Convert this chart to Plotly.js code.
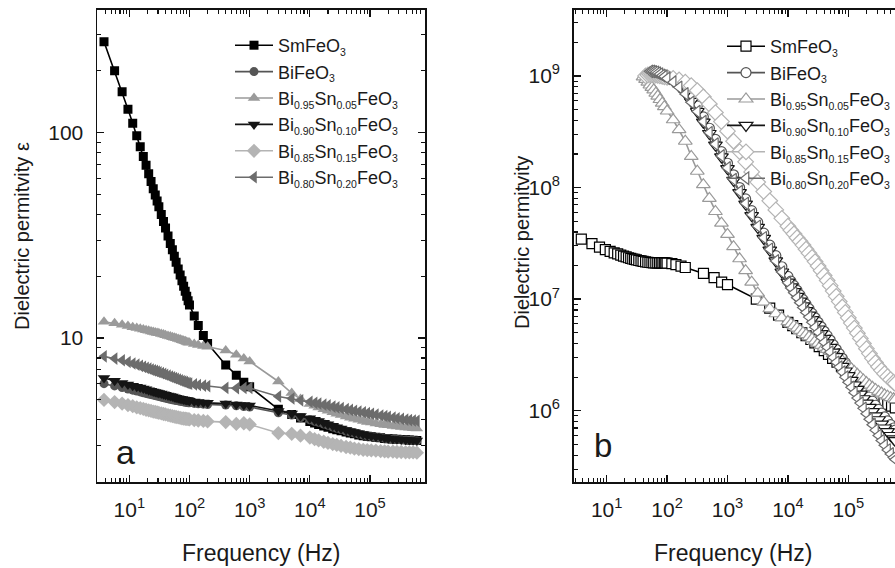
<!DOCTYPE html>
<html><head><meta charset="utf-8">
<script src="https://cdn.plot.ly/plotly-3.0.1.min.js"></script>
<style>html,body{margin:0;padding:0;overflow:hidden;background:#fff}#chart{width:910px;height:568px}</style>
</head><body><div id="chart"></div><script>
// ---------- data ----------
const freqL = [3.8,5.7,7.6,9.5,11.4,13.3,15.2,17.1,19,21,23,25,27,29,
  31,34,37,40,44,48,52,56,60,65,70,75,80,85,90,95,100,
  120,140,170,200,400,600,800,1000,3000,5000,7000,
  10000,12000,14000,17000,20000,24000,28000,33000,40000,47000,55000,65000,77000,90000,105000,125000,150000,175000,200000,240000,280000,330000,390000,450000,520000,600000];
const freqR = [40,44,48,52,56,60,65,70,76,83,90,100,
  126,158,200,251,316,398,501,631,794,1000,1259,1585,1995,2512,3162,3981,5012,6310,7943,
  10000,11220,12589,14125,15849,17783,19953,22387,25119,28184,31623,35481,39811,44668,50119,56234,63096,70795,79433,89125,
  100000,112202,125893,141254,158489,177828,199526,223872,251189,281838,316228,354813,398107,446684,501187,562341,600000];

const S = s => '<sub><span style="font-size:10.5px">' + s + '</span></sub>';
const seriesNames = ['SmFeO' + S('3'), 'BiFeO' + S('3'),
  'Bi' + S('0.95') + 'Sn' + S('0.05') + 'FeO' + S('3'),
  'Bi' + S('0.90') + 'Sn' + S('0.10') + 'FeO' + S('3'),
  'Bi' + S('0.85') + 'Sn' + S('0.15') + 'FeO' + S('3'),
  'Bi' + S('0.80') + 'Sn' + S('0.20') + 'FeO' + S('3')];

// panel a: dielectric permittivity (log) vs frequency
const aSm = [277,200,158,130,111,96.5,85.5,76.5,69.3,63,57.9,53.4,49.7,46.5,
  43.6,40,36.9,34.3,31.4,28.9,26.9,25,23.4,21.7,20.3,19,17.9,16.9,16,15.2,14.5,
  12.8,11.5,10.3,9.4,7.4,6.6,6.1,5.8,4.5,4.25,4.08,
  3.93,3.86,3.8,3.73,3.68,3.62,3.58,3.54,3.49,3.45,3.42,3.38,3.35,3.33,3.31,3.29,3.27,3.25,3.24,3.23,3.22,3.21,3.2,3.19,3.18,3.17];
const aBi = [6.0,5.85,5.75,5.65,5.58,5.52,5.47,5.42,5.38,5.34,5.31,5.28,5.25,5.22,
  5.2,5.16,5.13,5.1,5.07,5.04,5.01,4.99,4.97,4.95,4.93,4.91,4.89,4.88,4.86,4.85,4.84,
  4.81,4.79,4.77,4.75,4.72,4.68,4.64,4.62,4.33,4.22,4.1,
  4.0,3.94,3.89,3.82,3.76,3.69,3.64,3.59,3.53,3.49,3.45,3.41,3.37,3.34,3.32,3.29,3.27,3.25,3.24,3.22,3.21,3.2,3.19,3.18,3.17,3.16];
const aSn05 = [12.0,11.8,11.6,11.45,11.3,11.2,11.1,11.0,10.92,10.85,10.78,10.72,10.66,10.6,
  10.55,10.47,10.4,10.33,10.25,10.17,10.1,10.03,9.97,9.9,9.83,9.76,9.7,9.64,9.58,9.53,9.48,
  9.35,9.25,9.15,9.08,8.7,8.3,7.95,7.7,6.15,5.4,5.05,
  4.78,4.68,4.6,4.5,4.43,4.35,4.28,4.22,4.15,4.1,4.05,4.0,3.95,3.91,3.88,3.84,3.81,3.78,3.76,3.73,3.71,3.69,3.67,3.66,3.64,3.63];
const aSn10 = [6.4,6.2,6.05,5.95,5.87,5.8,5.74,5.68,5.63,5.58,5.54,5.5,5.47,5.44,
  5.41,5.37,5.33,5.3,5.26,5.22,5.19,5.16,5.13,5.1,5.07,5.05,5.03,5.01,4.99,4.98,4.96,
  4.92,4.89,4.86,4.84,4.8,4.75,4.72,4.7,4.42,4.3,4.18,
  4.07,4.0,3.95,3.87,3.81,3.74,3.68,3.63,3.57,3.52,3.48,3.44,3.4,3.37,3.34,3.31,3.29,3.27,3.25,3.23,3.22,3.21,3.2,3.19,3.18,3.17];
const aSn15 = [5.0,4.88,4.8,4.72,4.66,4.6,4.56,4.52,4.48,4.45,4.42,4.39,4.37,4.35,
  4.33,4.3,4.27,4.25,4.22,4.19,4.17,4.15,4.13,4.11,4.09,4.07,4.06,4.05,4.04,4.03,4.02,
  3.99,3.97,3.95,3.93,3.9,3.82,3.85,3.8,3.45,3.42,3.35,
  3.28,3.22,3.18,3.13,3.09,3.05,3.02,2.99,2.95,2.93,2.9,2.88,2.86,2.85,2.84,2.83,2.82,2.81,2.8,2.8,2.79,2.79,2.78,2.78,2.78,2.77];
const aSn20 = [8.15,7.95,7.8,7.65,7.52,7.42,7.33,7.25,7.17,7.1,7.03,6.97,6.92,6.87,
  6.82,6.75,6.69,6.63,6.56,6.5,6.44,6.39,6.34,6.28,6.23,6.18,6.14,6.1,6.06,6.03,6.0,
  5.95,5.91,5.87,5.84,5.72,5.7,5.72,5.72,5.2,5.08,4.98,
  4.9,4.84,4.8,4.74,4.7,4.64,4.6,4.56,4.51,4.47,4.43,4.39,4.35,4.31,4.28,4.24,4.2,4.17,4.14,4.1,4.07,4.04,4.01,3.99,3.97,3.95];

// panel b (SmFeO3 on freqL, the others on the tail of freqR)
const bSm = [3.45e7,3.15e7,2.93e7,2.78e7,2.68e7,2.6e7,2.54e7,2.48e7,2.43e7,2.39e7,2.35e7,2.32e7,2.29e7,2.27e7,
  2.25e7,2.22e7,2.2e7,2.18e7,2.16e7,2.14e7,2.13e7,2.12e7,2.11e7,2.11e7,2.11e7,2.11e7,2.11e7,2.11e7,2.11e7,2.1e7,2.1e7,
  2.08e7,2.04e7,1.98e7,1.92e7,1.7e7,1.56e7,1.42e7,1.35e7,1.0e7,8.3e6,7.2e6,
  6.2e6,5.8e6,5.45e6,5.0e6,4.7e6,4.35e6,4.05e6,3.75e6,3.45e6,3.2e6,2.95e6,2.72e6,2.5e6,2.3e6,2.13e6,1.95e6,1.78e6,1.65e6,1.55e6,1.43e6,1.34e6,1.26e6,1.19e6,1.14e6,1.1e6,1.06e6];
const bBi = [1.05e9,1.06e9,1.06e9,1.05e9,1.04e9,1.03e9,1.02e9,1.0e9,
  9.5e8,8.8e8,7.8e8,6.6e8,5.4e8,4.3e8,3.4e8,2.7e8,2.1e8,1.65e8,1.3e8,1.0e8,7.9e7,6.2e7,4.9e7,3.9e7,3.05e7,2.45e7,1.95e7,
  1.6e7,1.45e7,1.32e7,1.2e7,1.09e7,9.9e6,9.0e6,8.2e6,7.45e6,6.8e6,6.2e6,5.65e6,5.15e6,4.7e6,4.3e6,3.9e6,3.55e6,3.25e6,2.95e6,2.7e6,
  2.45e6,2.25e6,2.05e6,1.88e6,1.72e6,1.58e6,1.45e6,1.33e6,1.22e6,1.12e6,1.03e6,9.5e5,8.8e5,8.1e5,7.5e5,7.0e5,6.7e5];
const bSn05 = [9.8e8,9.3e8,8.8e8,8.3e8,7.9e8,7.5e8,7.0e8,6.6e8,6.15e8,5.7e8,5.3e8,4.85e8,
  4.05e8,3.3e8,2.6e8,1.9e8,1.4e8,1.06e8,8.0e7,6.1e7,4.8e7,3.8e7,2.95e7,2.3e7,1.8e7,1.42e7,1.13e7,9.4e6,8.2e6,7.4e6,6.8e6,
  6.3e6,6.0e6,5.75e6,5.5e6,5.25e6,5.0e6,4.8e6,4.6e6,4.4e6,4.2e6,4.02e6,3.85e6,3.7e6,3.55e6,3.4e6,3.25e6,3.1e6,2.95e6,2.8e6,2.66e6,
  2.52e6,2.38e6,2.25e6,2.12e6,2.0e6,1.89e6,1.79e6,1.7e6,1.62e6,1.55e6,1.49e6,1.44e6,1.39e6,1.35e6,1.31e6,1.28e6,1.26e6];
const bSn10 = [1.08e9,1.08e9,1.07e9,1.06e9,1.04e9,1.02e9,1.0e9,9.7e8,
  9.0e8,8.1e8,7.0e8,5.9e8,4.8e8,3.85e8,3.05e8,2.4e8,1.88e8,1.48e8,1.16e8,9.0e7,7.1e7,5.6e7,4.4e7,3.5e7,2.75e7,2.2e7,1.75e7,
  1.42e7,1.29e7,1.17e7,1.06e7,9.6e6,8.7e6,7.9e6,7.2e6,6.55e6,5.95e6,5.4e6,4.9e6,4.45e6,4.05e6,3.7e6,3.35e6,3.05e6,2.75e6,2.5e6,2.27e6,
  2.06e6,1.87e6,1.7e6,1.55e6,1.41e6,1.28e6,1.17e6,1.07e6,9.8e5,9.0e5,8.3e5,7.6e5,7.0e5,6.5e5,6.0e5,5.6e5,5.4e5];
const bSn15 = [1.0e9,1.02e9,1.03e9,1.03e9,1.03e9,1.02e9,1.01e9,1.0e9,9.9e8,9.8e8,9.7e8,
  9.5e8,9.2e8,8.8e8,8.2e8,7.4e8,6.5e8,5.6e8,4.7e8,3.9e8,3.2e8,2.6e8,2.1e8,1.7e8,1.38e8,1.12e8,9.2e7,7.6e7,6.3e7,5.3e7,
  4.5e7,4.15e7,3.85e7,3.55e7,3.3e7,3.05e7,2.8e7,2.58e7,2.37e7,2.17e7,1.98e7,1.8e7,1.63e7,1.47e7,1.32e7,1.18e7,1.06e7,9.5e6,8.5e6,7.6e6,
  6.8e6,6.1e6,5.5e6,4.95e6,4.45e6,4.0e6,3.6e6,3.25e6,2.95e6,2.7e6,2.48e6,2.3e6,2.15e6,2.02e6,1.9e6,1.8e6,1.75e6];
const bSn20 = [1.1e9,1.1e9,1.09e9,1.08e9,1.06e9,1.04e9,1.01e9,9.9e8,9.5e8,
  8.8e8,7.9e8,6.9e8,5.8e8,4.8e8,3.9e8,3.1e8,2.45e8,1.92e8,1.5e8,1.18e8,9.2e7,7.2e7,5.7e7,4.5e7,3.55e7,2.8e7,2.2e7,1.75e7,
  1.4e7,1.26e7,1.14e7,1.03e7,9.3e6,8.4e6,7.6e6,6.9e6,6.2e6,5.6e6,5.05e6,4.55e6,4.1e6,3.7e6,3.35e6,3.0e6,2.72e6,2.46e6,2.22e6,2.0e6,
  1.8e6,1.62e6,1.45e6,1.3e6,1.17e6,1.05e6,9.4e5,8.4e5,7.5e5,6.7e5,6.0e5,5.4e5,4.9e5,4.45e5,4.1e5,3.8e5,3.65e5];

const xTickVals = [10,100,1000,10000,100000];
const xTickText = ['10<sup>1</sup>','10<sup>2</sup>','10<sup>3</sup>','10<sup>4</sup>','10<sup>5</sup>'];
const yaTickVals = [10,100];
const yaTickText = ['10','100'];
const ybTickVals = [1e6,1e7,1e8,1e9];
const ybTickText = ['10<sup>6</sup>','10<sup>7</sup>','10<sup>8</sup>','10<sup>9</sup>'];

// ---------- styles ----------
const colors = ['#000000','#555555','#9a9a9a','#151515','#b4b4b4','#6c6c6c'];
const symbols = ['square','circle','triangle-up','triangle-down','diamond','triangle-left'];
const sizesA = [9,9,11,11,11,11];
const sizesB = [10,10,12,12,12,11];
const FONT = 'Liberation Sans, Arial, sans-serif';
const TXT = '#1a1a1a';

const aData = [aSm,aBi,aSn05,aSn10,aSn15,aSn20];
const bData = [bSm,bBi,bSn05,bSn10,bSn15,bSn20];
const traces = [];
aData.forEach((y,i)=>traces.push({
  type:'scatter', mode:'lines+markers', x:freqL, y:y, name:seriesNames[i],
  xaxis:'x', yaxis:'y', legend:'legend',
  line:{color:colors[i], width:1.6},
  marker:{symbol:symbols[i], size:sizesA[i], color:colors[i], line:{width:0}}
}));
bData.forEach((y,i)=>traces.push({
  type:'scatter', mode:'lines+markers',
  x:(i===0 ? freqL : freqR.slice(freqR.length - y.length)), y:y, name:seriesNames[i],
  xaxis:'x2', yaxis:'y2', legend:'legend2',
  line:{color:colors[i], width:1.6},
  marker:{symbol:symbols[i], size:sizesB[i], color:'#ffffff', line:{width:1.2, color:colors[i]}}
}));

const W = 910, H = 568;
const minorVals = [];
for (let d=-1; d<=10; d++) for (let k=2; k<=9; k++) minorVals.push(k*Math.pow(10,d));

function axisBase(){
  return {type:'log', showline:true, linecolor:'#111', linewidth:1.8, mirror:'ticks',
    ticks:'inside', ticklen:7, tickwidth:1.3, tickcolor:'#111', showgrid:false, zeroline:false,
    tickmode:'array', tickfont:{family:FONT, size:21, color:TXT}, ticklabelstandoff:8,
    minor:{tickmode:'array', tickvals:minorVals, ticks:'inside', ticklen:4, tickwidth:1.1, tickcolor:'#111', showgrid:false}};
}
const yDom = [(H-481.7)/H, (H-10)/H];
const xa = Object.assign(axisBase(), {domain:[97.3/W, 425/W], range:[0.4684,5.9136], anchor:'y', tickvals:xTickVals, ticktext:xTickText});
const ya = Object.assign(axisBase(), {domain:yDom, range:[0.301,2.597], anchor:'x', tickvals:yaTickVals, ticktext:yaTickText});
const xb = Object.assign(axisBase(), {domain:[574/W, 903/W], range:[0.4586,5.9056], anchor:'y2', tickvals:xTickVals, ticktext:xTickText});
const yb = Object.assign(axisBase(), {domain:yDom, range:[5.364,9.591], anchor:'x2', tickvals:ybTickVals, ticktext:ybTickText});

function ann(text, x, y, size, rot){
  return {text:text, xref:'paper', yref:'paper', x:x/W, y:(H-y)/H, xanchor:'center', yanchor:'middle',
    showarrow:false, textangle:rot||0, font:{family:FONT, size:size, color:TXT}};
}
const legendBase = {xanchor:'left', yanchor:'top', bgcolor:'rgba(0,0,0,0)', borderwidth:0,
  font:{family:FONT, size:18, color:TXT}, itemwidth:38, traceorder:'normal'};

const layout = {
  width:W, height:H, margin:{l:0,r:0,t:0,b:0}, paper_bgcolor:'#fff', plot_bgcolor:'#fff',
  font:{family:FONT, color:TXT},
  xaxis:xa, yaxis:ya, xaxis2:xb, yaxis2:yb,
  legend:Object.assign({}, legendBase, {x:230/W, y:(H-27)/H}),
  legend2:Object.assign({}, legendBase, {x:722/W, y:(H-28)/H}),
  annotations:[
    ann('Dielectric permitvity ε', 22, 236, 20, -90),
    ann('Dielectric permitvity', 522, 243, 20, -90),
    ann('Frequency (Hz)', 261, 553, 23),
    ann('Frequency (Hz)', 733, 553, 23),
    ann('a', 125, 452, 34),
    ann('b', 603, 445, 33)
  ],
  showlegend:true
};
Plotly.newPlot('chart', traces, layout, {displayModeBar:false, staticPlot:true});
</script></body></html>
